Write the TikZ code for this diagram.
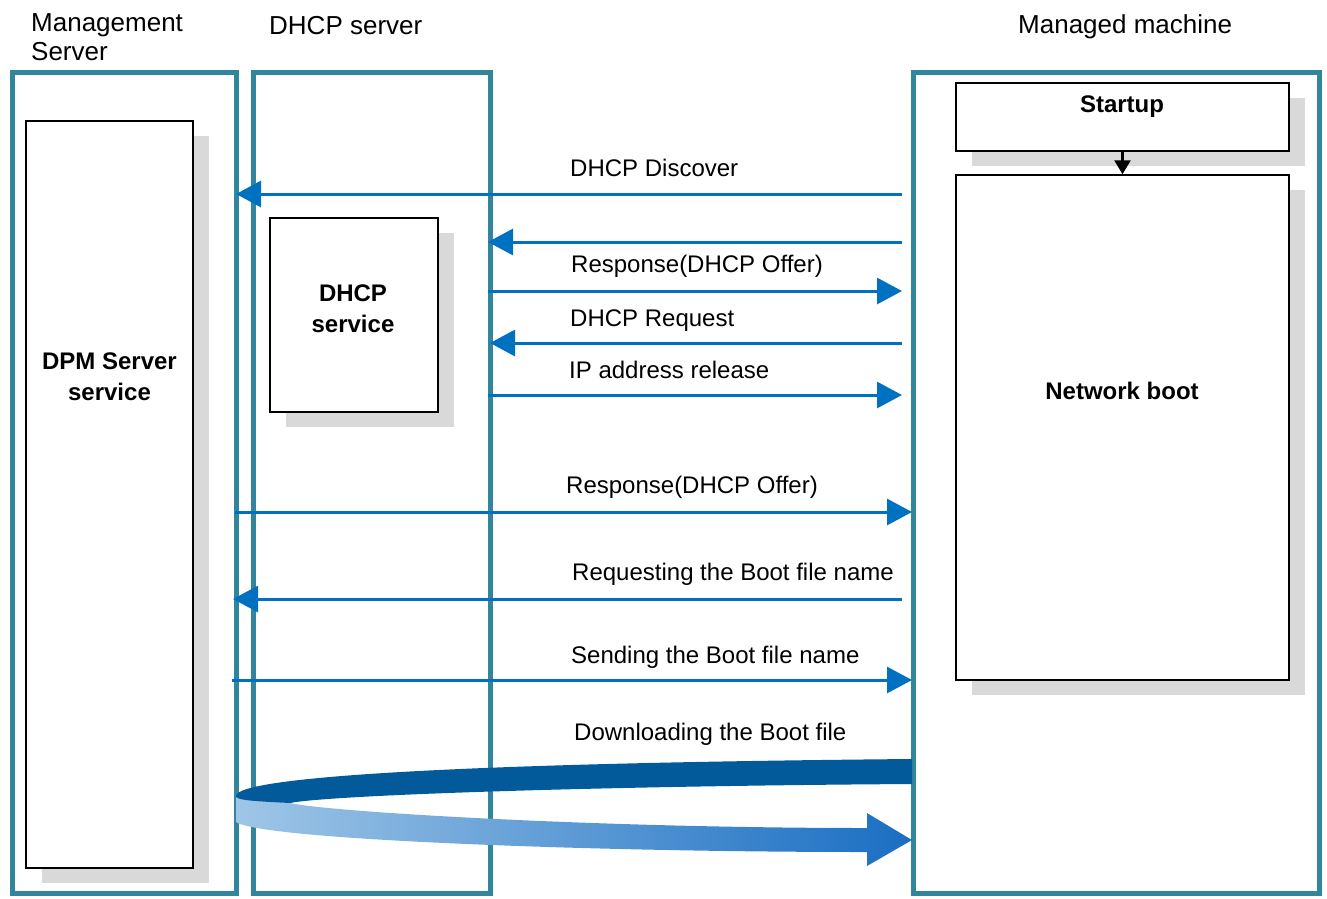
\documentclass[tikz,border=0pt]{standalone}
\usepackage{fontspec}
\setmainfont{Liberation Sans}
\usetikzlibrary{arrows.meta,shadows}
\definecolor{tealc}{HTML}{31859C}
\definecolor{shadowc}{HTML}{D9D9D9}
\definecolor{msgblue}{HTML}{0070C0}
\definecolor{darkband}{HTML}{025A9A}
\definecolor{lightband}{HTML}{9FC6E7}
\definecolor{endband}{HTML}{1A6EC3}
\begin{document}
\begin{tikzpicture}[x=1pt,y=-1pt,
  container/.style={draw=tealc,line width=5pt,inner sep=0pt},
  procbox/.style={draw=black,line width=1.5pt,fill=white,inner sep=0pt,
     drop shadow={shadow xshift=16pt,shadow yshift=-15pt,fill=shadowc,opacity=1}},
  title/.style={anchor=base west,inner sep=0pt,font=\fontsize{26}{29}\selectfont},
  msglabel/.style={anchor=base west,inner sep=0pt,font=\fontsize{24}{30}\selectfont},
  boxtext/.style={inner sep=0pt,align=center,font=\fontsize{24}{31}\selectfont\bfseries},
  msg/.style={draw=msgblue,line width=3pt,-{Triangle[length=25pt,width=26pt]}}]
\useasboundingbox (0,0) rectangle (1327,898);
% containers
\node[container,minimum width=224pt,minimum height=821pt] (mgmt) at (124,482.5) {};
\node[container,minimum width=237pt,minimum height=821pt] (dhcpsrv) at (371.5,482.5) {};
\node[container,minimum width=406pt,minimum height=821pt] (managed) at (1116,482.5) {};
% titles
\node[title] (t1) at (31,31) {Management};
\node[title] (t1b) at (31,60) {Server};
\node[title] (t2) at (269,34) {DHCP server};
\node[title] (t3) at (1018,33) {Managed machine};
% boxes
\node[procbox,minimum width=167pt,minimum height=747pt] (dpm) at (109.5,494.5) {};
\node[boxtext] (dpmt) at (109.5,377) {DPM Server\\service};
\node[procbox,minimum width=168pt,minimum height=194pt] (dhcpsvc) at (354,315) {};
\node[boxtext] (dhcpsvct) at (353,309) {DHCP\\service};
\node[procbox,minimum width=333pt,minimum height=68pt] (startup) at (1122.5,117) {};
\node[boxtext] (startupt) at (1122,107) {Startup};
\node[procbox,minimum width=333pt,minimum height=505pt] (netboot) at (1122.5,427.5) {};
\node[boxtext] (netboott) at (1122,391) {Network boot};
\draw[black,line width=2.5pt,-{Triangle[length=14pt,width=16pt]}] (startup.south) -- (netboot.north);
% message coordinates
\coordinate (m1s) at (902,194); \coordinate (m1e) at (236,194);
\coordinate (m2s) at (902,242); \coordinate (m2e) at (488,242);
\coordinate (m3s) at (488,291); \coordinate (m3e) at (902,291);
\coordinate (m4s) at (902,343); \coordinate (m4e) at (490,343);
\coordinate (m5s) at (488,395); \coordinate (m5e) at (902,395);
\coordinate (m6s) at (235,512); \coordinate (m6e) at (912,512);
\coordinate (m7s) at (902,599); \coordinate (m7e) at (233,599);
\coordinate (m8s) at (232,680); \coordinate (m8e) at (912,680);
\draw[msg] (m1s) -- (m1e);
\draw[msg] (m2s) -- (m2e);
\draw[msg] (m3s) -- (m3e);
\draw[msg] (m4s) -- (m4e);
\draw[msg] (m5s) -- (m5e);
\draw[msg] (m6s) -- (m6e);
\draw[msg] (m7s) -- (m7e);
\draw[msg] (m8s) -- (m8e);
% labels
\node[msglabel] (l1) at (570,176) {DHCP Discover};
\node[msglabel] (l3) at (571,272) {Response(DHCP Offer)};
\node[msglabel] (l4) at (570,326) {DHCP Request};
\node[msglabel] (l5) at (569,378) {IP address release};
\node[msglabel] (l6) at (566,493) {Response(DHCP Offer)};
\node[msglabel] (l7) at (572,580) {Requesting the Boot file name};
\node[msglabel] (l8) at (571,663) {Sending the Boot file name};
\node[msglabel] (l9) at (574,740) {Downloading the Boot file};
% download arrow
\shade[left color=lightband,right color=endband]
  (236,796) -- (236,822) .. controls (262,840) and (600,852) .. (867,852)
  -- (867,866) -- (912,840) -- (867,813) -- (867,828)
  .. controls (600,828) and (330,812) .. (290,803)
  .. controls (252,800) and (236,800) .. (236,796) -- cycle;
\fill[darkband]
  (912,759) -- (912,784) .. controls (600,786) and (330,795) .. (290,803)
  .. controls (250,801) and (236,800) .. (236,796)
  .. controls (236,782) and (360,764) .. (912,759) -- cycle;
\end{tikzpicture}
\end{document}
